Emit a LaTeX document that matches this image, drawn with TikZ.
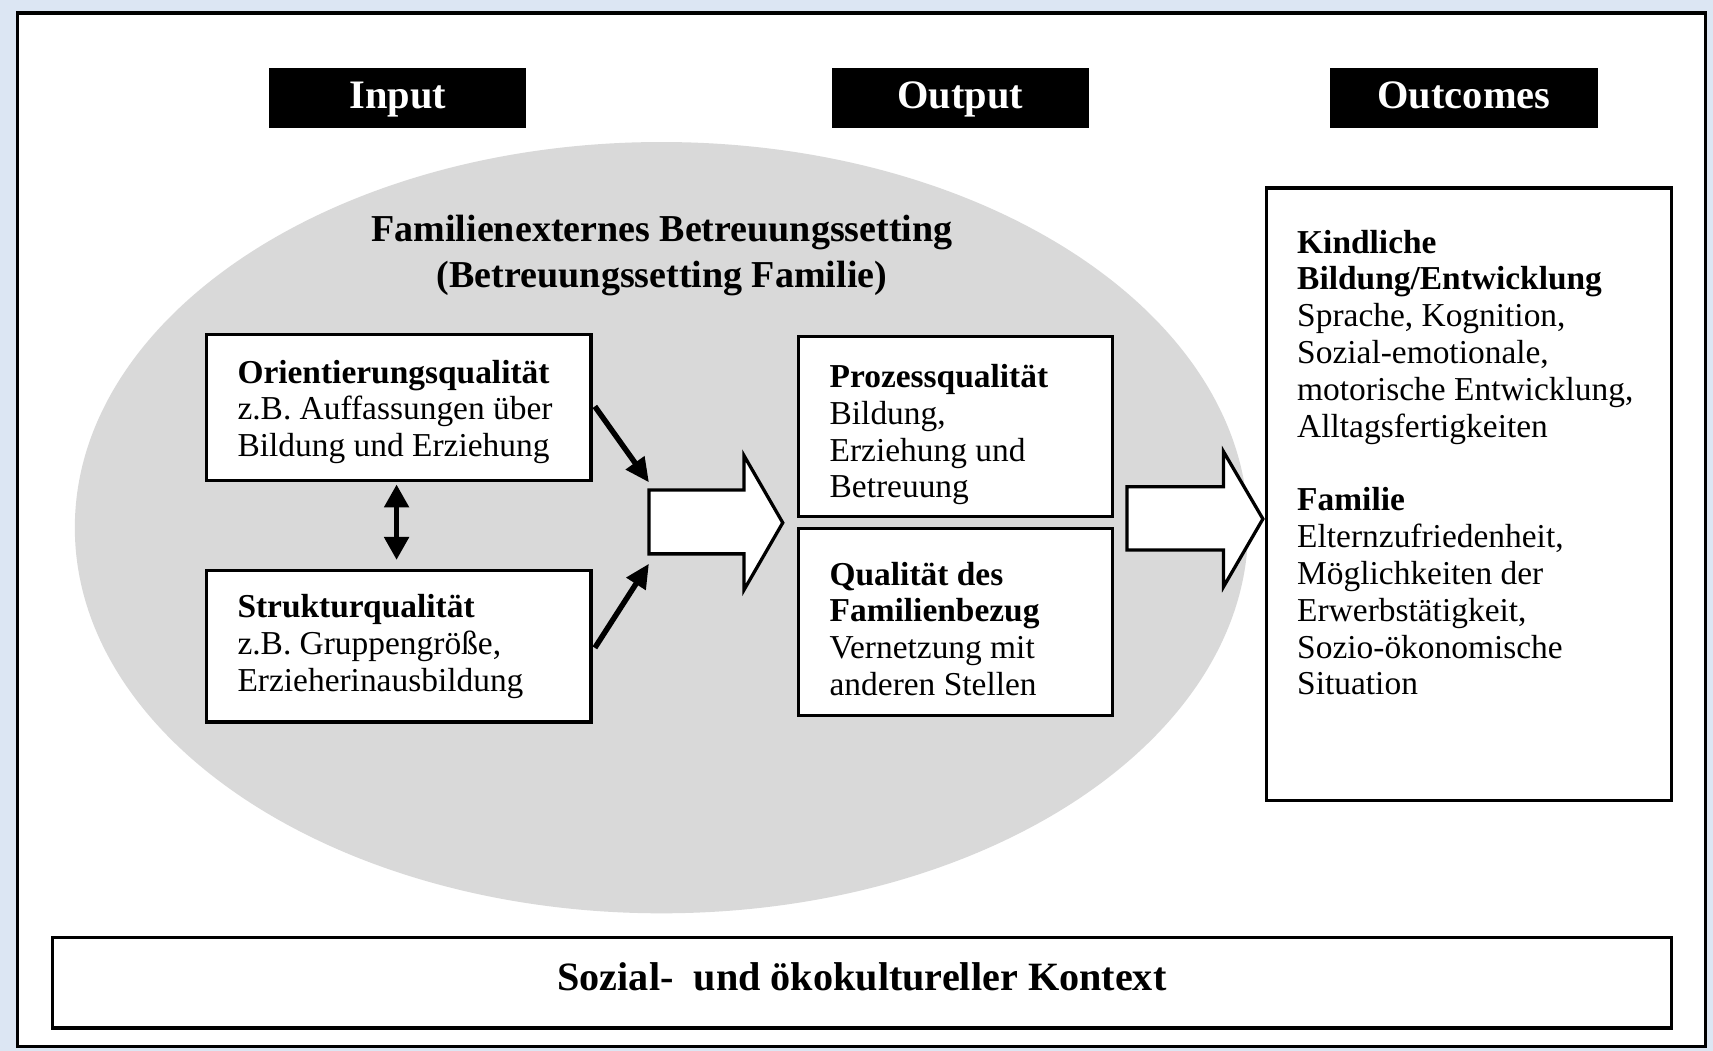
\documentclass[tikz,border=0pt]{standalone}
\usepackage{fontspec}
\setmainfont{Liberation Serif}
\usetikzlibrary{arrows.meta,calc}
\definecolor{bgblue}{RGB}{220,230,243}
\definecolor{ellgray}{RGB}{217,217,217}
\begin{document}
\begin{tikzpicture}[x=0.5pt,y=-0.5pt,
  hdr/.style={fill=black, draw=black, text=white, minimum width=117pt, minimum height=27pt, inner sep=0pt,
    text height=13pt, text depth=4pt,
    font=\fontsize{18.5pt}{20pt}\selectfont\bfseries},
  qbox/.style={draw=black, fill=white, line width=1.5pt, inner sep=0pt},
  txt/.style={align=left, inner sep=0pt, font=\fontsize{15.3pt}{16.85pt}\selectfont},
  thinarrow/.style={line width=2.5pt, -{Triangle[length=11pt,width=10pt]}},
  blockarrow/.style={draw=black, fill=white, line width=1.5pt, line join=miter}
]
\useasboundingbox (0,0) rectangle (1568,962);
\fill[bgblue] (0,0) rectangle (1568,962);
\draw[line width=1.5pt, fill=white] (16,12) rectangle (1561,958);

% ellipse
\fill[ellgray] (605.5,483) ellipse [x radius=268.5pt, y radius=176.5pt];

% headers
\node[hdr] (hin) at (364,90) {Input};
\node[hdr] (hout) at (879,90) {Output};
\node[hdr, minimum width=122pt] (hoc) at (1340,90) {Outcomes};

% title
\node[align=center, inner sep=0pt, font=\fontsize{17.4pt}{21pt}\selectfont\bfseries] (title) at (606,234)
  {Familienexternes Betreuungssetting\\(Betreuungssetting Familie)};

% input boxes
\node[qbox, minimum width=176pt, minimum height=67pt] (orient) at (365,373) {};
\node[txt, anchor=north west] (orientT) at (217,329)
  {\textbf{Orientierungsqualität}\\z.B. Auffassungen über\\Bildung und Erziehung};
\node[qbox, minimum width=176pt, minimum height=69.5pt] (struct) at (365,591.5) {};
\node[txt, anchor=north west] (structT) at (217,544)
  {\textbf{Strukturqualität}\\z.B. Gruppengröße,\\Erzieherinausbildung};

% double arrow
\draw[line width=2.4pt, {Triangle[length=10.5pt,width=11pt]}-{Triangle[length=10.5pt,width=11pt]}]
  ($(orient.south)+(-2,2)$) coordinate (da1) -- ($(struct.north)+(-2,-8)$) coordinate (da2);

% output boxes
\node[qbox, minimum width=143.5pt, minimum height=82.5pt] (proz) at (874.5,390.5) {};
\node[txt, anchor=north west] (prozT) at (759,333)
  {\textbf{Prozessqualität}\\Bildung,\\Erziehung und\\Betreuung};
\node[qbox, minimum width=143.5pt, minimum height=85.5pt] (famq) at (874.5,569.5) {};
\node[txt, anchor=north west] (famqT) at (759,514)
  {\textbf{Qualität des}\\\textbf{Familienbezug}\\Vernetzung mit\\anderen Stellen};

% block arrow 1
\coordinate (b1tl) at (594,448.5);
\coordinate (b1bl) at (594,507);
\draw[blockarrow] (b1tl) -- (681,448.5) -- (681,417) -- (716.5,478.5) -- (681,540) -- (681,507) -- (b1bl) -- cycle;

% thin arrows
\draw[thinarrow] ($(orient.east)+(2,-1)$) -- ($(b1tl)+(0,-7)$);
\draw[thinarrow] ($(struct.east)+(2,1.5)$) -- ($(b1bl)+(0,9)$);

% block arrow 2
\draw[blockarrow] (1031.5,445.5) -- (1120,445.5) -- (1120,413.5) -- (1156,475) -- (1120,537) -- (1120,503.5) -- (1031.5,503.5) -- cycle;

% outcomes box
\node[qbox, minimum width=185.5pt, minimum height=280.5pt] (ocbox) at (1344.5,452.5) {};
\node[txt, anchor=north west] (ocT) at (1187,210)
  {\textbf{Kindliche}\\\textbf{Bildung/Entwicklung}\\Sprache, Kognition,\\Sozial-emotionale,\\motorische Entwicklung,\\Alltagsfertigkeiten\\[16.85pt]\textbf{Familie}\\Elternzufriedenheit,\\Möglichkeiten der\\Erwerbstätigkeit,\\Sozio-ökonomische\\Situation};

% context
\node[qbox, minimum width=741pt, minimum height=41.5pt] (ctx) at (789,899.5) {};
\node[inner sep=0pt, font=\fontsize{18.4pt}{20pt}\selectfont\bfseries] (ctxT) at (789,894) {Sozial-\ \ und ökokultureller Kontext};
\end{tikzpicture}
\end{document}
